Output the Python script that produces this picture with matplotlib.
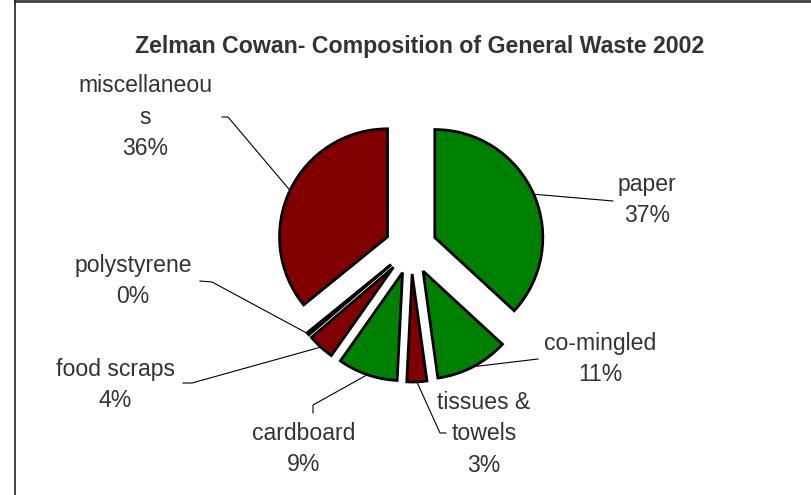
import matplotlib.pyplot as plt
import numpy as np
from matplotlib.lines import Line2D

plt.rcParams['font.family'] = ['Liberation Sans', 'DejaVu Sans']

# data, clockwise from 12 o'clock
names = ["paper", "co-mingled", "tissues &\ntowels", "cardboard",
         "food scraps", "polystyrene", "miscellaneou\ns"]
values = [37, 11, 3, 9, 4, 0.4, 36]
colors = ["#008000", "#008000", "#800000", "#008000",
          "#800000", "#ffffff", "#800000"]

# label layout (pixel coords, y down): text centre, leader knee, leader end
text_pos = [(647, 200), (600, 359), (484, 434), (304, 449),
            (115, 385), (133, 281), (145, 117)]
leader = [[(613, 201)], [(538, 359)], [(440, 433), (446, 433)],
          [(313, 405), (313, 413)], [(192, 383), (183, 383)],
          [(212, 282), (200, 281)], [(228, 117), (222, 117)]]

W, H = 811, 495
fig = plt.figure(figsize=(W / 100, H / 100), dpi=100)
ax = fig.add_axes([0, 0, 1, 1])

cx, cy, r, gap = 411, H - 248, 108, 26
wedges, _ = ax.pie(values, colors=colors, startangle=90, counterclock=False,
                   explode=[gap] * len(values), radius=r, center=(cx, cy),
                   wedgeprops=dict(edgecolor="black", linewidth=2))
ax.set_xlim(0, W)
ax.set_ylim(0, H)
ax.set_aspect("equal")
ax.axis("off")

total = sum(values)
txt_col = "#333333"
for w, name, v, tp, ld in zip(wedges, names, values, text_pos, leader):
    # leader starts on the arc at the middle of the wedge
    tm = np.radians((w.theta1 + w.theta2) / 2)
    x0 = w.center[0] + r * np.cos(tm)
    y0 = w.center[1] + r * np.sin(tm)
    xs = [x0] + [p[0] for p in ld]
    ys = [y0] + [H - p[1] for p in ld]
    ax.plot(xs, ys, color="black", lw=0.8)
    ax.text(tp[0], H - tp[1], f"{name}\n{round(100 * v / total)}%",
            ha="center", va="center", fontsize=16.6, color=txt_col,
            linespacing=1.45)

ax.text(420, H - 46, "Zelman Cowan- Composition of General Waste 2002",
        ha="center", va="center", fontsize=16.7, fontweight="bold", color=txt_col)

# chart frame (top and left edges visible)
fig.add_artist(Line2D([15 / W, 1], [1 - 1 / H, 1 - 1 / H], color="#404040", lw=2))
fig.add_artist(Line2D([15 / W, 15 / W], [0, 1 - 1 / H], color="#202020", lw=1.2))

fig.savefig("out.png", dpi=100)
